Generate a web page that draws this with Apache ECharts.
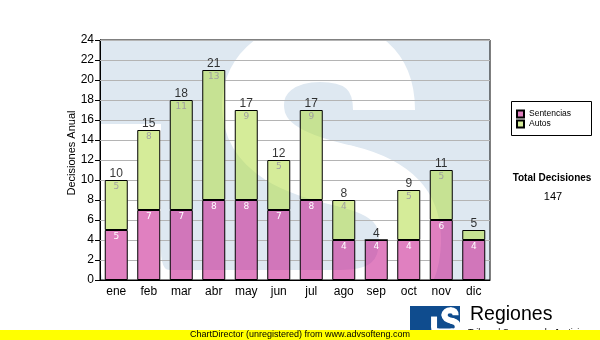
<!DOCTYPE html>
<html>
<head>
<meta charset="utf-8">
<script src="https://cdn.jsdelivr.net/npm/echarts@6/dist/echarts.min.js"></script>
<style>
  html, body { margin: 0; padding: 0; background: #ffffff; }
  #chart { width: 600px; height: 340px; }
</style>
</head>
<body>
<div id="chart"></div>
<script>
// Monthly decisions, split into judgements (Sentencias) and orders (Autos)
const months = ['ene', 'feb', 'mar', 'abr', 'may', 'jun', 'jul', 'ago', 'sep', 'oct', 'nov', 'dic'];
const sentencias = [5, 7, 7, 8, 8, 7, 8, 4, 4, 4, 6, 4];
const autos = [5, 8, 11, 13, 9, 5, 9, 4, 0, 5, 5, 1];
const yTicks = [0, 2, 4, 6, 8, 10, 12, 14, 16, 18, 20, 22, 24];

const totals = months.map((m, i) => sentencias[i] + autos[i]);
const grandTotal = totals.reduce((a, b) => a + b, 0);

// Layout
const PLOT = { left: 100, top: 40, width: 390, height: 240 };
const BAR_W = 23;
const FONT = 'Liberation Sans';

// Centre line of the large faded "S" emblem behind the plot (cubic segments)
const EMBLEM_S = [
  [384, 110, 384, 70, 360, 51, 320, 51],
  [320, 51, 282, 51, 253, 72, 253, 105],
  [253, 105, 253, 150, 300, 166, 345, 176],
  [345, 176, 395, 188, 410, 210, 410, 240],
  [410, 240, 410, 285, 380, 301, 340, 301],
  [340, 301, 260, 301, 200, 301, 170, 301],
  [170, 301, 145, 301, 130, 282, 130, 250],
  [130, 250, 130, 200, 130, 160, 130, 124]
];

function sCurves(segs, scale, dx, dy, width, color, z) {
  return segs.map((s, k) => ({
    type: 'bezierCurve',
    silent: true,
    z: z,
    shape: {
      x1: s[0] * scale + dx, y1: s[1] * scale + dy,
      cpx1: s[2] * scale + dx, cpy1: s[3] * scale + dy,
      cpx2: s[4] * scale + dx, cpy2: s[5] * scale + dy,
      x2: s[6] * scale + dx, y2: s[7] * scale + dy
    },
    style: {
      stroke: color, fill: 'none', lineWidth: width,
      lineCap: (k === 0 || k === segs.length - 1) ? 'butt' : 'round'
    }
  }));
}

const graphics = [].concat(
  // plot background
  [{ type: 'rect', silent: true, z: -10,
     shape: { x: PLOT.left, y: PLOT.top, width: PLOT.width, height: PLOT.height },
     style: { fill: '#dee8f1' } }],
  sCurves(EMBLEM_S, 1, 0, 0, 62, '#ffffff', -9),
  // keep the emblem inside the plot frame
  [
    { type: 'rect', silent: true, z: -8, shape: { x: 0, y: 0, width: 600, height: PLOT.top }, style: { fill: '#fff' } },
    { type: 'rect', silent: true, z: -8, shape: { x: 0, y: PLOT.top + PLOT.height, width: 600, height: 80 }, style: { fill: '#fff' } },
    { type: 'rect', silent: true, z: -8, shape: { x: 0, y: 0, width: PLOT.left, height: 340 }, style: { fill: '#fff' } },
    { type: 'rect', silent: true, z: -8, shape: { x: PLOT.left + PLOT.width, y: 0, width: 120, height: 340 }, style: { fill: '#fff' } }
  ],
  [
    // y axis title
    { type: 'text', silent: true, z: 5, x: 72, y: 153, rotation: Math.PI / 2,
      style: { text: 'Decisiones Anual', font: '11px "Liberation Sans"', fill: '#000',
               textAlign: 'center', textVerticalAlign: 'middle' } },
    // legend frame
    { type: 'rect', silent: true, z: 5,
      shape: { x: 511.5, y: 101.5, width: 80, height: 34 },
      style: { fill: 'none', stroke: '#000', lineWidth: 1 } },
    // grand total
    { type: 'text', silent: true, z: 5, x: 552, y: 178,
      style: { text: 'Total Decisiones', font: 'bold 10px "Liberation Sans"', fill: '#000',
               textAlign: 'center', textVerticalAlign: 'middle' } },
    { type: 'text', silent: true, z: 5, x: 553, y: 197,
      style: { text: String(grandTotal), font: '11px "Liberation Sans"', fill: '#000',
               textAlign: 'center', textVerticalAlign: 'middle' } },
    // logo block
    { type: 'rect', silent: true, z: 10, shape: { x: 410, y: 306, width: 50, height: 30 }, style: { fill: '#0f4c8e' } },
    { type: 'polygon', silent: true, z: 11, shape: { points: [[414, 310], [428, 310], [428, 314], [424, 314], [424, 336], [418, 336], [418, 314], [414, 314]] }, style: { fill: '#0f4c8e' } }
  ],
  sCurves(EMBLEM_S, 0.085, 423, 306, 6, '#ffffff', 11),
  [
    { type: 'text', silent: true, z: 10, x: 470, y: 315,
      style: { text: 'Regiones', font: '19.5px "Liberation Sans"', fill: '#000',
               textAlign: 'left', textVerticalAlign: 'middle' } },
    { type: 'text', silent: true, z: 10, x: 468, y: 328,
      style: { text: 'Tribunal Supremo de Justicia', font: '9px "Liberation Sans"', fill: '#000',
               textAlign: 'left', textVerticalAlign: 'top' } },
    // footer strip
    { type: 'rect', silent: true, z: 20, shape: { x: 0, y: 330, width: 600, height: 10 }, style: { fill: '#ffff00' } },
    { type: 'text', silent: true, z: 21, x: 300, y: 335,
      style: { text: 'ChartDirector (unregistered) from www.advsofteng.com', font: '9px "Liberation Sans"', fill: '#000',
               textAlign: 'center', textVerticalAlign: 'middle' } }
  ]
);

// Horizontal grid lines, broken where a bar covers them
function renderGridLine(params, api) {
  const v = api.value(1);
  const y = Math.floor(api.coord([0, v])[1]) + 0.5;
  const cs = params.coordSys;
  const children = [];
  let x0 = cs.x;
  const seg = (a, b) => ({ type: 'line', silent: true,
    shape: { x1: a, y1: y, x2: b, y2: y }, style: { stroke: '#b4b4b4', lineWidth: 1 } });
  for (let i = 0; i < months.length; i++) {
    if (totals[i] >= v) {
      const cx = api.coord([i, v])[0];
      children.push(seg(x0, cx - BAR_W / 2));
      x0 = cx + BAR_W / 2;
    }
  }
  children.push(seg(x0, cs.x + cs.width));
  return { type: 'group', children: children };
}

const chart = echarts.init(document.getElementById('chart'), null, { renderer: 'canvas' });
chart.setOption({
  animation: false,
  backgroundColor: '#ffffff',
  textStyle: { fontFamily: FONT },
  grid: {
    left: PLOT.left, top: PLOT.top, width: PLOT.width, height: PLOT.height,
    show: true, borderColor: '#000', borderWidth: 1, backgroundColor: 'transparent',
    containLabel: false, outerBoundsMode: 'none'
  },
  legend: {
    data: ['Sentencias', 'Autos'],
    orient: 'vertical', left: 516, top: 109, padding: 0, itemGap: 0,
    itemWidth: 7, itemHeight: 7, icon: 'rect', selectedMode: false,
    textStyle: { fontFamily: FONT, fontSize: 8.5, color: '#000', lineHeight: 10 }
  },
  xAxis: {
    type: 'category', data: months,
    axisLine: { lineStyle: { color: '#000', width: 1 } },
    axisTick: { alignWithLabel: true, length: 4, lineStyle: { color: '#000' } },
    axisLabel: { color: '#000', fontSize: 12, fontFamily: FONT, margin: 6 },
    splitLine: { show: false }
  },
  yAxis: {
    type: 'value', min: 0, max: 24, interval: 2,
    axisLine: { show: true, lineStyle: { color: '#000', width: 1 } },
    axisTick: { show: true, length: 5, lineStyle: { color: '#000' } },
    axisLabel: { color: '#000', fontSize: 12, fontFamily: FONT, margin: 6 },
    splitLine: { show: false }
  },
  graphic: { elements: graphics },
  series: [
    {
      name: 'grid', type: 'custom', z: 1, silent: true, clip: false,
      data: yTicks.filter(v => v > 0).map(v => [0, v]),
      encode: { x: 0, y: 1 },
      renderItem: renderGridLine
    },
    {
      name: 'Sentencias', type: 'bar', stack: 'dec', barWidth: BAR_W, z: 2,
      data: sentencias,
      itemStyle: { color: 'rgba(199,24,140,0.55)', borderColor: '#000', borderWidth: 1 },
      label: { show: true, position: 'insideTop', distance: 2, color: '#ffffff',
               fontSize: 9, fontFamily: 'DejaVu Sans' },
      emphasis: { disabled: true }
    },
    {
      name: 'Autos', type: 'bar', stack: 'dec', barWidth: BAR_W, z: 2,
      data: autos,
      itemStyle: { color: 'rgba(179,220,70,0.55)', borderColor: '#000', borderWidth: 1 },
      label: { show: true, position: 'insideTop', distance: 2, color: '#a0a0a0',
               fontSize: 9, fontFamily: 'DejaVu Sans',
               formatter: p => (p.value >= 2 ? String(p.value) : '') },
      emphasis: { disabled: true }
    },
    {
      name: 'Total', type: 'scatter', z: 3, silent: true, symbolSize: 0,
      data: totals.map((t, i) => [i, t]),
      label: { show: true, position: 'top', distance: 0, color: '#000',
               fontSize: 12, fontFamily: FONT, formatter: p => String(p.value[1]) },
      emphasis: { disabled: true }
    }
  ]
});
</script>
</body>
</html>
